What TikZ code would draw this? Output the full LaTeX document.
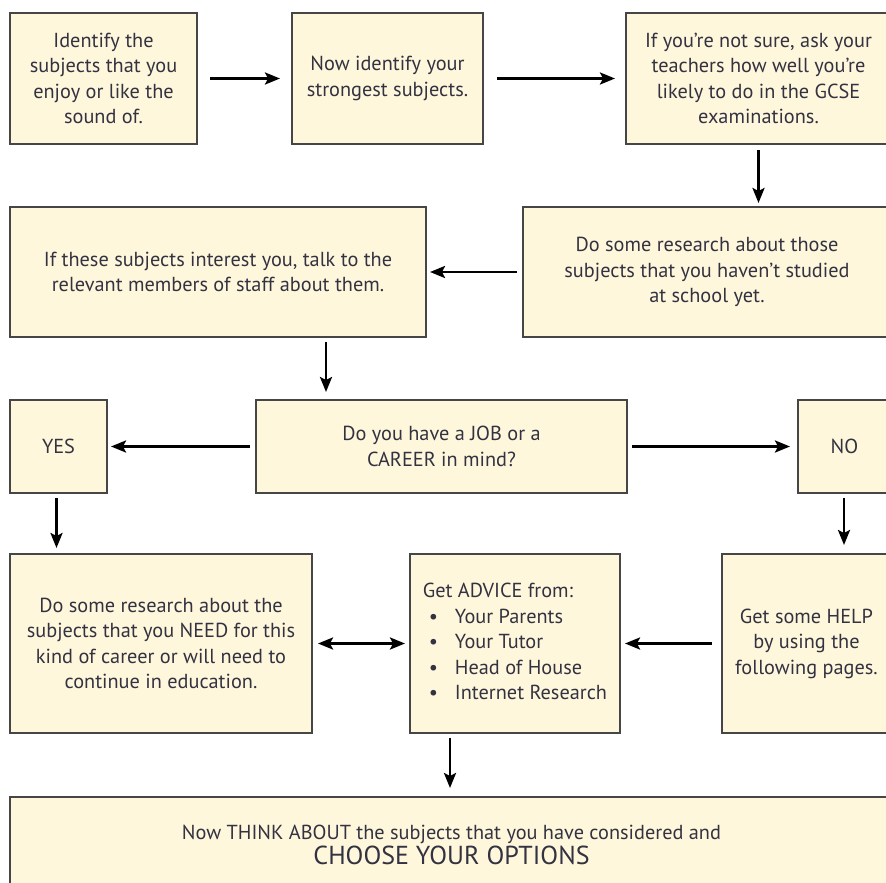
\documentclass[tikz,border=0pt]{standalone}
\usepackage{fontspec}
\setmainfont{PT Sans}
\usetikzlibrary{arrows.meta,calc}
\definecolor{boxfill}{RGB}{255,247,220}
\definecolor{boxline}{RGB}{70,70,70}
\definecolor{txt}{RGB}{50,50,65}
\tikzset{
  box/.style={draw=boxline,fill=boxfill,line width=1.4pt,inner sep=0pt,outer sep=0pt,
    align=center,text=txt,font=\fontsize{20.3}{25.5}\selectfont},
  arr/.style={line width=2.6pt,-{Stealth[length=15pt,width=12pt,inset=3pt]}},
  darr/.style={line width=2.6pt,{Stealth[length=15pt,width=12pt,inset=3pt]}-{Stealth[length=15pt,width=12pt,inset=3pt]}}
}
\newcommand\mybox[6]{\node[box,minimum width={#4-#2},minimum height={#5-#3}] (#1) at ({(#2+#4)/2},{(#3+#5)/2}) {#6};}
\begin{document}
\begin{tikzpicture}[x=1pt,y=-1pt]
\useasboundingbox (0,0) rectangle (886,883);
\clip (0,0) rectangle (886,883);
\fill[white] (0,0) rectangle (886,883);
\mybox{b1}{10}{13}{197}{144}{Identify the\\subjects that you\\enjoy or like the\\sound of.}
\mybox{b2}{292}{13}{483}{144}{Now identify your\\strongest subjects.}
\mybox{b3}{626}{13}{891}{144}{If you're not sure, ask your\\teachers how well you're\\likely to do in the GCSE\\examinations.}
\mybox{b4}{523}{207}{891}{337}{Do some research about those\\subjects that you haven't studied\\at school yet.}
\mybox{b5}{10}{207}{426}{337}{If these subjects interest you, talk to the\\relevant members of staff about them.}
\mybox{yes}{10}{400}{107}{493}{YES}
\mybox{q}{256}{400}{627}{493}{Do you have a JOB or a\\CAREER in mind?}
\mybox{no}{798}{400}{891}{493}{NO}
\mybox{need}{10}{554}{312}{733}{Do some research about the\\subjects that you NEED for this\\kind of career or will need to\\continue in education.}
\mybox{adv}{410}{554}{620}{733}{\begin{tabular}{@{}l@{}}Get ADVICE from:\\
\makebox[32pt][l]{\hspace{6pt}•}Your Parents\\
\makebox[32pt][l]{\hspace{6pt}•}Your Tutor\\
\makebox[32pt][l]{\hspace{6pt}•}Head of House\\
\makebox[32pt][l]{\hspace{6pt}•}Internet Research\end{tabular}}
\mybox{help}{722}{554}{891}{733}{Get some HELP\\by using the\\following pages.}
\mybox{final}{10}{797}{893}{893}{Now THINK ABOUT the subjects that you have considered and\\{\fontsize{26}{30}\selectfont CHOOSE YOUR OPTIONS}}
% connectors
\draw[arr,shorten <=13pt,shorten >=12pt] (b1.east) -- (b1.east -| b2.west);
\draw[arr,shorten <=14pt,shorten >=11pt] (b2.east) -- (b2.east -| b3.west);
\draw[arr,shorten <=6pt,shorten >=4pt] (b3.south) -- (b3.south |- b4.north);
\draw[arr,shorten <=6pt,shorten >=4pt] (b4.west) -- (b4.west -| b5.east);
\draw[arr,shorten <=5pt,shorten >=8pt] ([xshift=316pt]b5.south west) -- ([xshift=316pt]b5.south west |- q.north);
\draw[arr,shorten <=6pt,shorten >=4pt] (q.west) -- (q.west -| yes.east);
\draw[arr,shorten <=5pt,shorten >=8pt] (q.east) -- (q.east -| no.west);
\draw[arr,shorten <=5pt,shorten >=6pt] ([xshift=-2pt]yes.south) -- ([xshift=-2pt]yes.south |- need.north);
\draw[arr,shorten <=5pt,shorten >=9pt] ([xshift=-0.5pt]no.south) -- ([xshift=-0.5pt]no.south |- help.north);
\draw[darr,shorten <=6pt,shorten >=5pt] (need.east) -- (adv.west);
\draw[arr,shorten <=10pt,shorten >=5pt] (help.west) -- (adv.east);
\draw[arr,shorten <=5pt,shorten >=9pt] ([xshift=-65pt]adv.south) -- ([xshift=-65pt]adv.south |- final.north);
\end{tikzpicture}
\end{document}
